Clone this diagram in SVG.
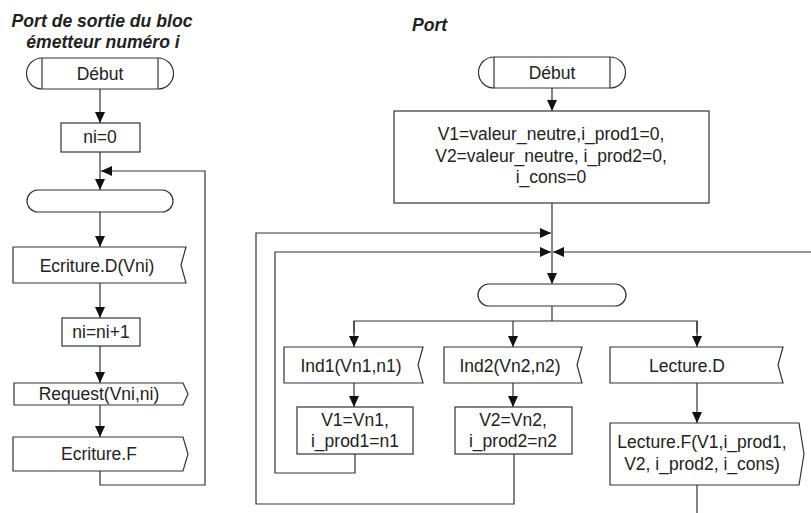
<svg xmlns="http://www.w3.org/2000/svg" width="811" height="513" viewBox="0 0 811 513">
  <defs>
    <marker id="arrow" viewBox="0 0 11 10" refX="11" refY="5" markerWidth="11" markerHeight="10" markerUnits="userSpaceOnUse" orient="auto">
      <path d="M0,0 L11,5 L0,10 z" fill="#111"/>
    </marker>
  </defs>
  <style>
    .shape { fill: #fff; stroke: #333; stroke-width: 1.2; }
    .wire { fill: none; stroke: #333; stroke-width: 1.2; }
    .arr { marker-end: url(#arrow); }
    .lbl { font-family: "Liberation Sans", Arial, sans-serif; font-size: 17.5px; fill: #222; text-anchor: middle; }
    .title { font-family: "Liberation Sans", Arial, sans-serif; font-size: 17.6px; font-weight: bold; font-style: italic; fill: #222; }
  </style>

  <rect width="811" height="513" fill="#fff"/>

  <!-- Titles -->
  <text class="title" x="102" y="27" text-anchor="middle">Port de sortie du bloc</text>
  <text class="title" x="103" y="48" text-anchor="middle">émetteur numéro i</text>
  <text class="title" x="412" y="31">Port</text>

  <!-- Connectors -->
  <g id="connectors">
    <!-- left flow -->
    <line class="wire arr" x1="100" y1="89" x2="100" y2="123"/>
    <line class="wire arr" x1="100" y1="152" x2="100" y2="190"/>
    <line class="wire arr" x1="100" y1="212" x2="100" y2="247"/>
    <line class="wire arr" x1="100" y1="283" x2="100" y2="318"/>
    <line class="wire arr" x1="100" y1="346" x2="100" y2="383"/>
    <line class="wire arr" x1="100" y1="405" x2="100" y2="437"/>
    <polyline class="wire arr" points="100,471 100,485 205,485 205,171 101,171"/>

    <!-- right flow -->
    <line class="wire arr" x1="552" y1="88" x2="552" y2="111"/>
    <line class="wire arr" x1="552" y1="203" x2="552" y2="284"/>
    <polyline class="wire" points="552,306 552,321"/>
    <polyline class="wire" points="354,333 354,321 697,321 697,333"/>
    <line class="wire arr" x1="354" y1="321" x2="354" y2="347"/>
    <line class="wire arr" x1="513" y1="321" x2="513" y2="347"/>
    <line class="wire arr" x1="697" y1="321" x2="697" y2="347"/>
    <line class="wire arr" x1="354" y1="383" x2="354" y2="407"/>
    <line class="wire arr" x1="513" y1="383" x2="513" y2="407"/>
    <line class="wire arr" x1="697" y1="383" x2="697" y2="423"/>
    <line class="wire" x1="697" y1="485" x2="697" y2="513"/>
    <polyline class="wire arr" points="355,454 355,473 275,473 275,252 551,252"/>
    <polyline class="wire arr" points="514,454 514,504 256,504 256,233 551,233"/>
    <line class="wire arr" x1="811" y1="252" x2="553" y2="252"/>
  </g>

  <!-- Left flowchart nodes -->
  <g id="l-start">
    <path class="shape" d="M42,58 L158,58 A15.5,15.5 0 0 1 158,89 L42,89 A15.5,15.5 0 0 1 42,58 Z"/>
    <line class="wire" x1="42" y1="58" x2="42" y2="89"/>
    <line class="wire" x1="158" y1="58" x2="158" y2="89"/>
    <text class="lbl" x="100" y="80">Début</text>
  </g>
  <g id="l-init">
    <rect class="shape" x="61" y="123" width="79" height="29"/>
    <text class="lbl" x="100" y="143">ni=0</text>
  </g>
  <g id="l-state">
    <rect class="shape" x="27" y="190" width="146" height="22" rx="11" ry="11"/>
  </g>
  <g id="l-write-start">
    <path class="shape" d="M13,247 L186,247 L181,265 L186,283 L13,283 Z"/>
    <text class="lbl" x="97" y="272">Ecriture.D(Vni)</text>
  </g>
  <g id="l-incr">
    <rect class="shape" x="62" y="318" width="78" height="28"/>
    <text class="lbl" x="101" y="338">ni=ni+1</text>
  </g>
  <g id="l-request">
    <path class="shape" d="M14,383 L183,383 L188,394 L183,405 L14,405 Z"/>
    <text class="lbl" x="99" y="400">Request(Vni,ni)</text>
  </g>
  <g id="l-write-end">
    <path class="shape" d="M13,437 L183,437 L188,454 L183,471 L13,471 Z"/>
    <text class="lbl" x="99" y="460">Ecriture.F</text>
  </g>

  <!-- Right flowchart nodes -->
  <g id="r-start">
    <path class="shape" d="M494,57 L610,57 A15.5,15.5 0 0 1 610,88 L494,88 A15.5,15.5 0 0 1 494,57 Z"/>
    <line class="wire" x1="494" y1="57" x2="494" y2="88"/>
    <line class="wire" x1="610" y1="57" x2="610" y2="88"/>
    <text class="lbl" x="552" y="79">Début</text>
  </g>
  <g id="r-init">
    <rect class="shape" x="394" y="111" width="315" height="92"/>
    <text class="lbl" x="551" y="140">V1=valeur_neutre,i_prod1=0,</text>
    <text class="lbl" x="551" y="162">V2=valeur_neutre, i_prod2=0,</text>
    <text class="lbl" x="551" y="183">i_cons=0</text>
  </g>
  <g id="r-state">
    <rect class="shape" x="478" y="284" width="148" height="22" rx="11" ry="11"/>
  </g>
  <g id="r-ind1">
    <path class="shape" d="M284,347 L423,347 L418,365 L423,383 L284,383 Z"/>
    <text class="lbl" x="351" y="372">Ind1(Vn1,n1)</text>
  </g>
  <g id="r-set1">
    <rect class="shape" x="297" y="407" width="116" height="47"/>
    <text class="lbl" x="355" y="426">V1=Vn1,</text>
    <text class="lbl" x="355" y="447">i_prod1=n1</text>
  </g>
  <g id="r-ind2">
    <path class="shape" d="M444,347 L582,347 L577,365 L582,383 L444,383 Z"/>
    <text class="lbl" x="510" y="372">Ind2(Vn2,n2)</text>
  </g>
  <g id="r-set2">
    <rect class="shape" x="455" y="407" width="117" height="47"/>
    <text class="lbl" x="513" y="426">V2=Vn2,</text>
    <text class="lbl" x="513" y="447">i_prod2=n2</text>
  </g>
  <g id="r-read-start">
    <path class="shape" d="M610,347 L783,347 L778,365 L783,383 L610,383 Z"/>
    <text class="lbl" x="687" y="372">Lecture.D</text>
  </g>
  <g id="r-read-end">
    <path class="shape" d="M610,423 L799,423 L804,454 L799,485 L610,485 Z"/>
    <text class="lbl" x="702" y="448">Lecture.F(V1,i_prod1,</text>
    <text class="lbl" x="702" y="470">V2, i_prod2, i_cons)</text>
  </g>
</svg>
